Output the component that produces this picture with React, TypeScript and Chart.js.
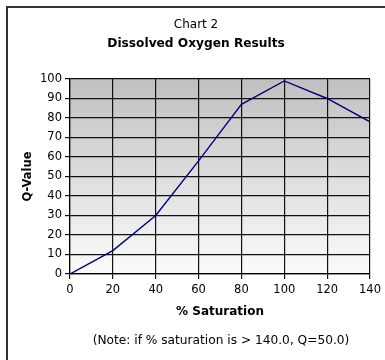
import React, { useEffect, useRef } from "react";
import { Chart, registerables } from "chart.js";

Chart.register(...registerables);

const saturation = [0, 20, 40, 60, 80, 100, 120, 140];
const qValues = [0, 12, 30, 58, 87, 99, 90, 78];
const chartTitle = "Chart 2";
const chartSubtitle = "Dissolved Oxygen Results";
const xTitle = "% Saturation";
const yTitle = "Q-Value";
const noteText = "(Note: if % saturation is > 140.0, Q=50.0)";

const FONT = "'DejaVu Sans', Verdana, sans-serif";

const bgPlugin = {
  id: "bgPlugin",
  beforeDraw(chart: any) {
    const { ctx, chartArea } = chart;
    ctx.save();
    ctx.fillStyle = "#ffffff";
    ctx.fillRect(0, 0, chart.width, chart.height);
    const g = ctx.createLinearGradient(0, chartArea.top, 0, chartArea.bottom);
    g.addColorStop(0, "#c0c0c0");
    g.addColorStop(1, "#fbfbfb");
    ctx.fillStyle = g;
    ctx.fillRect(chartArea.left, chartArea.top, chartArea.right - chartArea.left, chartArea.bottom - chartArea.top);
    ctx.restore();
  },
  afterDraw(chart: any) {
    const { ctx } = chart;
    ctx.save();
    ctx.fillStyle = "#000";
    ctx.textAlign = "center";
    ctx.textBaseline = "middle";
    ctx.font = `12px ${FONT}`;
    ctx.fillText(chartTitle, 196, 25);
    ctx.font = `bold 12.2px ${FONT}`;
    ctx.fillText(chartSubtitle, 196, 44);
    ctx.font = `12.2px ${FONT}`;
    ctx.fillText(noteText, 221, 341);
    ctx.restore();
  },
};

export default function App() {
  const ref = useRef<HTMLCanvasElement>(null);
  useEffect(() => {
    if (!ref.current) return;
    const chart = new Chart(ref.current, {
      type: "line",
      data: {
        datasets: [
          {
            data: saturation.map((x, i) => ({ x, y: qValues[i] })),
            borderColor: "#000080",
            borderWidth: 1.4,
            pointRadius: 0,
            tension: 0,
            fill: false,
          },
        ],
      },
      options: {
        animation: false,
        responsive: false,
        devicePixelRatio: 1,
        layout: { padding: { left: 8, top: 79, right: 15, bottom: 36 } },
        plugins: { legend: { display: false }, tooltip: { enabled: false } },
        scales: {
          x: {
            type: "linear",
            min: 0,
            max: 140,
            afterFit: (s: any) => {
              s.height = 50;
            },
            ticks: { stepSize: 20, color: "#000", padding: 4, font: { family: FONT, size: 11.5 } },
            grid: { color: "#111", lineWidth: 1.2, tickLength: 5 },
            border: { color: "#000", width: 1.2 },
            title: {
              display: true,
              text: xTitle,
              color: "#000",
              font: { family: FONT, size: 12, weight: "bold" },
              padding: { top: 0, bottom: 5 },
            },
          },
          y: {
            min: 0,
            max: 100,
            afterFit: (s: any) => {
              s.width = 62;
            },
            ticks: { stepSize: 10, color: "#000", padding: 3, font: { family: FONT, size: 11.5 } },
            grid: { color: "#111", lineWidth: 1.2, tickLength: 5 },
            border: { color: "#000", width: 1.2 },
            title: {
              display: true,
              text: yTitle,
              color: "#000",
              font: { family: FONT, size: 11.5, weight: "bold" },
              padding: { top: 13, bottom: 0 },
            },
          },
        },
      },
      plugins: [bgPlugin],
    } as any);
    return () => chart.destroy();
  }, []);
  return (
    <div style={{ position: "fixed", left: 0, top: 0, width: 385, height: 360, overflow: "hidden", background: "#fff" }}>
      <canvas ref={ref} width={385} height={360} style={{ position: "absolute", left: 0, top: 0, width: 385, height: 360 }} />
      <div
        style={{
          position: "absolute",
          left: 6,
          top: 6,
          width: 420,
          height: 420,
          border: "2px solid #333",
          pointerEvents: "none",
        }}
      />
    </div>
  );
}
